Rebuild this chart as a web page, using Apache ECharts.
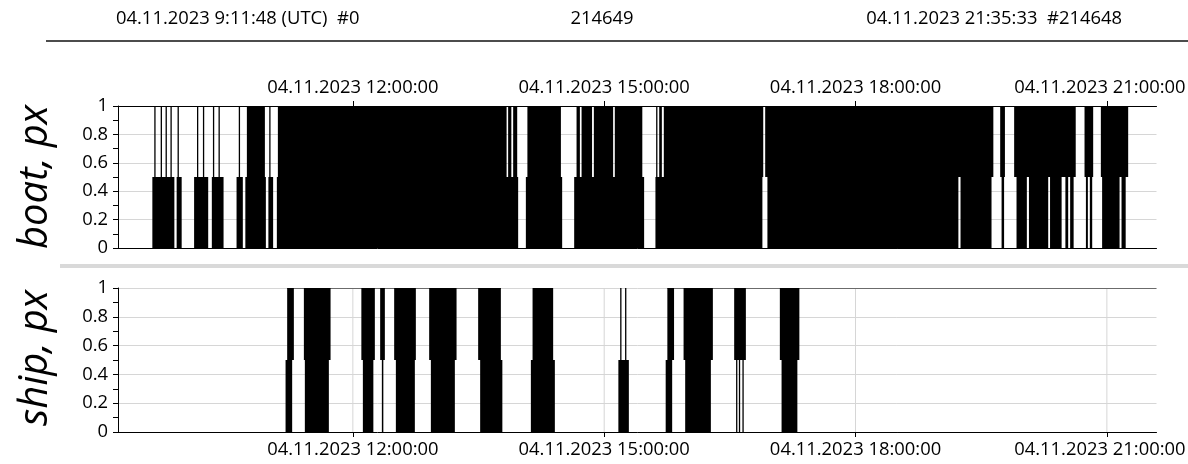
<!DOCTYPE html>
<html><head><meta charset="utf-8">
<script src="https://cdn.jsdelivr.net/npm/echarts@6/dist/echarts.min.js"></script>
<style>html,body{margin:0;padding:0;background:#fff;overflow:hidden;}#c{width:1188px;height:464px;}</style>
</head><body><div id="c"></div>
<script>
// ---------- data ----------
const headerLeft = '04.11.2023 9:11:48 (UTC)  #0';
const headerCenter = '214649';
const headerRight = '04.11.2023 21:35:33  #214648';
const startTime = '09:11:48';
const endTime = '21:35:33';
const tickTimes = ['12:00:00', '15:00:00', '18:00:00', '21:00:00'];
const tickLabels = ['04.11.2023 12:00:00', '04.11.2023 15:00:00', '04.11.2023 18:00:00', '04.11.2023 21:00:00'];
const panelNames = ['boat, px', 'ship, px'];
const levels = [0, 0.5, 1];

// periods where the boat signal fills 0..0.5
const boatLower = [
  ['09:36:24','09:52:10'],['09:53:48','09:57:24'],['10:06:18','10:16:24'],['10:19:00','10:27:24'],
  ['10:36:42','10:41:12'],['10:43:00','10:57:42'],['10:59:30','11:02:54'],['11:05:34','13:58:23'],
  ['14:03:54','14:29:54'],['14:38:30','15:28:36'],['15:36:42','16:53:18'],['16:56:54','19:13:40'],
  ['19:15:12','19:37:24'],['19:44:36','19:46:24'],['19:55:18','20:02:42'],['20:04:12','20:18:00'],
  ['20:19:18','20:27:36'],['20:30:18','20:32:18'],['20:33:42','20:36:12'],['20:45:00','20:46:24'],
  ['20:47:48','20:49:30'],['20:56:36','21:09:06'],['21:10:30','21:13:29']
];
// periods where the boat signal reaches 0.5..1
const boatUpper = [
  ['09:37:50','09:38:40'],['09:42:25','09:43:15'],['09:45:55','09:46:45'],['09:49:25','09:50:15'],
  ['09:54:30','09:55:20'],['10:08:25','10:09:15'],['10:12:40','10:13:30'],['10:19:50','10:20:40'],
  ['10:23:50','10:24:40'],['10:38:20','10:39:10'],['10:44:06','10:57:00'],['11:00:10','11:01:00'],
  ['11:06:18','13:50:06'],['13:51:12','13:53:30'],['13:54:48','13:57:42'],['14:05:00','14:29:00'],
  ['14:40:12','14:42:36'],['14:43:48','14:51:18'],['14:52:36','15:06:24'],['15:07:36','15:27:18'],
  ['15:37:20','15:38:00'],['15:39:24','15:41:18'],['15:42:42','16:53:54'],['16:55:18','19:38:42'],
  ['19:43:36','19:47:00'],['19:53:36','20:37:42'],['20:44:00','20:50:12'],['20:55:42','21:15:16']
];
// periods where the ship signal fills 0..0.5
const shipLower = [
  ['11:11:48','11:16:32'],['11:25:37','11:42:49'],['12:07:10','12:14:41'],['12:20:46','12:21:50'],
  ['12:30:48','12:44:24'],['12:55:52','13:13:03'],['13:31:10','13:47:04'],['14:07:29','14:24:40'],
  ['15:10:09','15:17:40'],['15:44:02','15:48:41'],['15:58:00','16:16:24'],['16:34:30','16:35:20'],
  ['16:36:30','16:37:20'],['16:39:00','16:39:55'],['17:07:02','17:18:21']
];
// periods where the ship signal reaches 0.5..1
const shipUpper = [
  ['11:12:57','11:17:45'],['11:24:55','11:44:02'],['12:06:05','12:15:45'],['12:19:33','12:22:55'],
  ['12:29:35','12:45:07'],['12:54:39','13:14:16'],['13:29:44','13:46:00'],['14:08:42','14:23:27'],
  ['15:11:30','15:12:20'],['15:15:00','15:15:50'],['15:45:14','15:50:02'],['15:56:51','16:17:50'],
  ['16:33:05','16:41:28'],['17:05:48','17:19:47']
];
// periods where the ship signal holds at 1
const shipAtOne = [['11:12:57','13:46:00'], ['15:45:14','21:35:33']];

// ---------- helpers ----------
function toH(s){ const p = s.split(':').map(Number); return p[0] + p[1]/60 + (p[2]||0)/3600; }
const startH = toH(startTime), endH = toH(endTime);
const tickH = tickTimes.map(toH);
function band(list, lo, hi){ return list.map(function(d){ return [toH(d[0]), toH(d[1]), lo, hi]; }); }

const FONT = '"Open Sans", "Liberation Sans", sans-serif';
const FS = 18.4;
const GRID_LEFT = 118, GRID_RIGHT = 31.5;

function renderBand(params, api){
  const a = api.coord([api.value(0), api.value(3)]);
  const b = api.coord([api.value(1), api.value(2)]);
  let x = a[0], w = b[0] - a[0];
  if (w < 1.3) { x -= (1.3 - w) / 2; w = 1.3; }
  return { type: 'rect', shape: { x: x, y: a[1], width: w, height: b[1] - a[1] }, style: { fill: '#000' } };
}
function renderHold(params, api){
  const a = api.coord([api.value(0), api.value(2)]);
  const b = api.coord([api.value(1), api.value(2)]);
  return { type: 'line', shape: { x1: a[0], y1: a[1], x2: b[0], y2: b[1] }, style: { stroke: '#000', lineWidth: 1.2 } };
}
function renderVGrid(params, api){
  const a = api.coord([api.value(0), levels[0]]);
  const b = api.coord([api.value(0), levels[2]]);
  return { type: 'line', shape: { x1: a[0], y1: a[1], x2: b[0], y2: b[1] }, style: { stroke: '#d6d6d6', lineWidth: 1 } };
}
function tickFmt(v){
  const i = tickH.findIndex(function(t){ return Math.abs(t - v) < 1e-6; });
  if (i < 0) return '';
  return i === tickH.length - 1 ? '{last|' + tickLabels[i] + '}' : tickLabels[i];
}

function xAxisBase(grid, pos, labels){
  return {
    type: 'value', gridIndex: grid, position: pos, min: startH, max: endH,
    axisLine: { show: true, onZero: false, lineStyle: { color: '#000', width: 1 } },
    axisTick: { show: labels, customValues: tickH, length: 5, lineStyle: { color: '#000' } },
    axisLabel: { show: labels, customValues: tickH, formatter: tickFmt, margin: 9, hideOverlap: false,
      fontFamily: FONT, fontSize: FS, color: '#000',
      rich: { last: { fontFamily: FONT, fontSize: FS, color: '#000', padding: [0, 14, 0, 0] } } },
    splitLine: { show: false }
  };
}
function yAxisBase(grid){
  return {
    type: 'value', gridIndex: grid, min: 0, max: 1, interval: 0.2,
    axisLine: { show: true, lineStyle: { color: '#000', width: 1 } },
    axisTick: { show: true, length: 5, lineStyle: { color: '#000' } },
    minorTick: { show: true, splitNumber: 2, length: 5, lineStyle: { color: '#000' } },
    axisLabel: { margin: 10, fontFamily: FONT, fontSize: FS, color: '#000' },
    splitLine: { show: true, lineStyle: { color: '#d6d6d6', width: 1 } }
  };
}

const chart = echarts.init(document.getElementById('c'), null, { renderer: 'canvas' });
chart.setOption({
  animation: false,
  backgroundColor: '#fff',
  grid: [
    { left: GRID_LEFT, right: GRID_RIGHT, top: 106, height: 142, containLabel: false, outerBoundsMode: 'none' },
    { left: GRID_LEFT, right: GRID_RIGHT, top: 288, height: 144, containLabel: false, outerBoundsMode: 'none' }
  ],
  xAxis: [ xAxisBase(0, 'top', true), xAxisBase(0, 'bottom', false), xAxisBase(1, 'bottom', true) ],
  yAxis: [ yAxisBase(0), yAxisBase(1) ],
  series: [
    { type: 'custom', xAxisIndex: 0, yAxisIndex: 0, z: 1, silent: true, renderItem: renderVGrid, data: tickH.map(function(h){ return [h]; }) },
    { type: 'custom', xAxisIndex: 2, yAxisIndex: 1, z: 1, silent: true, renderItem: renderVGrid, data: tickH.map(function(h){ return [h]; }) },
    { type: 'custom', xAxisIndex: 0, yAxisIndex: 0, z: 3, silent: true, clip: true, renderItem: renderBand,
      encode: { x: [0, 1], y: [2, 3] }, data: band(boatLower, levels[0], levels[1]).concat(band(boatUpper, levels[1], levels[2])) },
    { type: 'custom', xAxisIndex: 2, yAxisIndex: 1, z: 3, silent: true, clip: true, renderItem: renderBand,
      encode: { x: [0, 1], y: [2, 3] }, data: band(shipLower, levels[0], levels[1]).concat(band(shipUpper, levels[1], levels[2])) },
    { type: 'custom', xAxisIndex: 2, yAxisIndex: 1, z: 3, silent: true, clip: true, renderItem: renderHold,
      encode: { x: [0, 1], y: 2 }, data: shipAtOne.map(function(d){ return [toH(d[0]), toH(d[1]), levels[2]]; }) }
  ],
  graphic: [
    { type: 'text', x: 116, y: 19, style: { text: headerLeft, font: FS + 'px ' + FONT, fill: '#000', align: 'left', verticalAlign: 'middle' } },
    { type: 'text', x: 602, y: 19, style: { text: headerCenter, font: FS + 'px ' + FONT, fill: '#000', align: 'center', verticalAlign: 'middle' } },
    { type: 'text', x: 1122, y: 19, style: { text: headerRight, font: FS + 'px ' + FONT, fill: '#000', align: 'right', verticalAlign: 'middle' } },
    { type: 'line', shape: { x1: 46, y1: 41, x2: 1188, y2: 41 }, style: { stroke: '#111', lineWidth: 1.6 } },
    { type: 'rect', shape: { x: 60, y: 264, width: 1128, height: 4 }, style: { fill: '#d9d9d9' } },
    { type: 'text', x: 36, y: 177, rotation: Math.PI / 2, style: { text: panelNames[0], font: 'italic 40px ' + FONT, fill: '#000', align: 'center', verticalAlign: 'middle' } },
    { type: 'text', x: 36, y: 358, rotation: Math.PI / 2, style: { text: panelNames[1], font: 'italic 40px ' + FONT, fill: '#000', align: 'center', verticalAlign: 'middle' } }
  ]
});
</script></body></html>
